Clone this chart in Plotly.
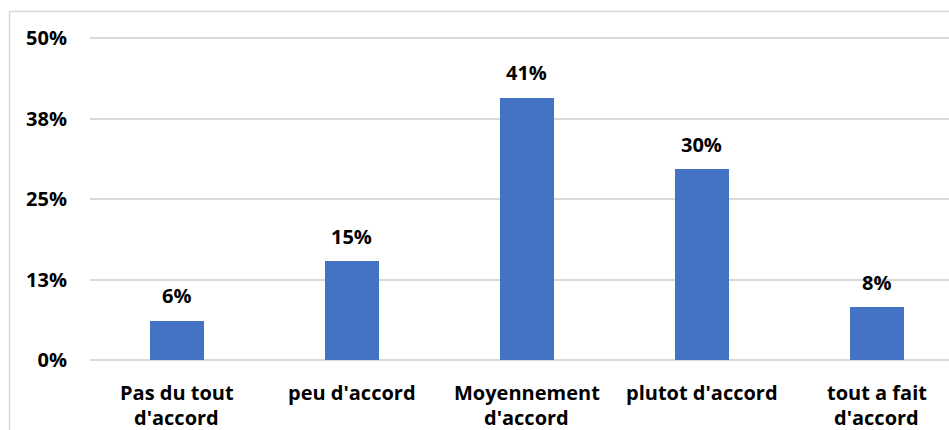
import plotly.graph_objects as go

categories = [["Pas du tout", "d'accord"], ["peu d'accord"], ["Moyennement", "d'accord"],
              ["plutot d'accord"], ["tout a fait", "d'accord"]]
values = [6.1, 15.3, 40.7, 29.6, 8.2]
tick_vals = [0, 12.5, 25, 37.5, 50]
tick_text = ["0%", "13%", "25%", "38%", "50%"]

W, H = 949, 430
FONT = "Open Sans"
FS = 20
BAR = "#4472C4"
GRID = "#d9d9d9"
BOLD = dict(family=FONT, size=FS, color="#000000", weight="bold")

x_idx = list(range(len(categories)))

fig = go.Figure()
fig.add_trace(go.Bar(x=x_idx, y=values, marker=dict(color=BAR, line=dict(width=0)),
                     width=0.31, hoverinfo="skip"))

# data labels
for i, v in zip(x_idx, values):
    fig.add_annotation(x=i, y=v, text=f"{round(v)}%", showarrow=False,
                       yanchor="middle", yshift=25, font=BOLD)

# category labels (two-line, Excel-like line spacing)
LINE1, LINE_GAP = -27, 25
for i, lines in zip(x_idx, categories):
    for k, line in enumerate(lines):
        fig.add_annotation(x=i, y=0, xref="x", yref="paper", text=line, showarrow=False,
                           yanchor="middle", yshift=LINE1 - k * LINE_GAP, font=BOLD)

ml, mr, mt, mb = 90, 0, 28, 65
px_per = 322 / 50.0
ymin = -5 / px_per
ymax = 50 + 10 / px_per
plot_w = W - ml - mr
plot_h = H - mt - mb

fig.update_layout(
    width=W, height=H,
    margin=dict(l=ml, r=mr, t=mt, b=mb, pad=0, autoexpand=False),
    paper_bgcolor="white", plot_bgcolor="white",
    showlegend=False,
    bargap=0,
    font=dict(family=FONT, size=FS, color="#000000"),
    xaxis=dict(range=[-0.497, -0.497 + plot_w / 175.0],
               tickmode="array", tickvals=x_idx, ticktext=[""] * len(x_idx),
               showgrid=False, zeroline=False, showline=False, ticks="",
               showticklabels=False, automargin=False, fixedrange=True),
    yaxis=dict(range=[ymin, ymax], tickmode="array", tickvals=tick_vals, ticktext=tick_text,
               showgrid=True, gridcolor=GRID, gridwidth=1.5,
               zeroline=True, zerolinecolor=GRID, zerolinewidth=1.5,
               showline=False, ticks="", tickfont=BOLD,
               ticklabelstandoff=22, automargin=False, fixedrange=True),
)

# chart-area frame (light gray border, cropped on right/bottom)
fig.add_shape(type="rect", xref="paper", yref="paper",
              x0=(9.5 - ml) / plot_w, x1=(W + 5 - ml) / plot_w,
              y0=-(mb + 10) / plot_h, y1=(H - 11.5 - mb) / plot_h,
              line=dict(color=GRID, width=1.5), fillcolor="rgba(0,0,0,0)", layer="below")

fig.write_html("out.html")
